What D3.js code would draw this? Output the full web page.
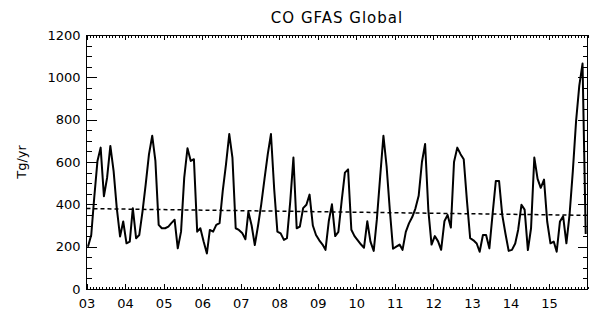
<!DOCTYPE html>
<html>
<head>
<meta charset="utf-8">
<script src="https://cdn.jsdelivr.net/npm/d3@7"></script>
<style>
  body { margin: 0; background: #fff; }
  svg text { font-family: "DejaVu Sans", sans-serif; fill: #000; }
</style>
</head>
<body>
<script>
// monthly CO emissions, Jan 2003 .. Dec 2015 (Tg/yr)
const startYear = 2003;
const values2003 = [200, 255, 430, 605, 668, 438, 525, 676, 557, 382, 248, 319];
const values2004 = [216, 224, 382, 240, 255, 367, 494, 636, 724, 605, 303, 287];
const values2005 = [287, 295, 311, 327, 192, 271, 525, 665, 605, 613, 271, 287];
const values2006 = [224, 168, 279, 271, 303, 311, 462, 589, 732, 621, 287, 279];
const values2007 = [265, 235, 365, 300, 208, 300, 400, 520, 637, 732, 470, 271];
const values2008 = [263, 232, 240, 414, 621, 287, 295, 382, 398, 446, 300, 255];
const values2009 = [230, 210, 185, 320, 400, 250, 270, 415, 550, 565, 280, 250];
const values2010 = [230, 210, 195, 320, 224, 180, 330, 530, 724, 580, 370, 190];
const values2011 = [200, 210, 185, 270, 310, 340, 380, 440, 600, 685, 370, 210];
const values2012 = [250, 225, 185, 320, 350, 290, 600, 668, 637, 613, 414, 240];
const values2013 = [230, 215, 176, 255, 255, 192, 351, 510, 510, 350, 260, 180];
const values2014 = [185, 215, 280, 398, 375, 184, 287, 621, 520, 478, 517, 319];
const values2015 = [216, 224, 176, 319, 343, 216, 351, 557, 795, 960, 1065, 260];
const values = [].concat(values2003, values2004, values2005, values2006, values2007,
  values2008, values2009, values2010, values2011, values2012, values2013,
  values2014, values2015);

// linear trend, start and end of the period
const trendValues = [380, 348];
const trendDates = [new Date(2003, 0, 1), new Date(2016, 0, 1)];

const yearLabels = ["03", "04", "05", "06", "07", "08", "09", "10", "11", "12", "13", "14", "15"];
const yTicks = [0, 200, 400, 600, 800, 1000, 1200];

const width = 592;
const height = 320;
const marginLeft = 86.5;
const marginRight = 4.5;
const marginTop = 35;
const marginBottom = 31;

const data = values.map(function (v, i) {
  return { date: new Date(startYear, i, 15), value: v };
});

const svg = d3.select("body")
  .append("svg")
  .attr("width", width)
  .attr("height", height);

svg.append("rect")
  .attr("width", "100%")
  .attr("height", "100%")
  .attr("fill", "white");

const x = d3.scaleTime()
  .domain([new Date(startYear, 0, 1), new Date(startYear + yearLabels.length, 0, 1)])
  .range([marginLeft, width - marginRight]);

const y = d3.scaleLinear()
  .domain([0, 1200])
  .range([height - marginBottom, marginTop]);

const years = yearLabels.map(function (d, i) { return new Date(startYear + i, 0, 1); });
const months = x.ticks(d3.timeMonth.every(1));
const yMinor = d3.range(0, 1201, 50);

function styleAxis(g) {
  g.select(".domain").remove();
  g.selectAll("line").attr("stroke", "#000").attr("shape-rendering", "crispEdges");
  g.selectAll("text").attr("font-size", 13).attr("fill", "#000");
}

// bottom axis, years with labels, months as minor ticks
svg.append("g")
  .attr("transform", "translate(0," + y(0) + ")")
  .call(d3.axisBottom(x).tickValues(months).tickSize(-2.5).tickFormat(""))
  .call(styleAxis);
svg.append("g")
  .attr("transform", "translate(0," + y(0) + ")")
  .call(d3.axisBottom(x).tickValues(years).tickSize(-5).tickPadding(10)
    .tickFormat(function (d, i) { return yearLabels[i]; }))
  .call(styleAxis);

// top axis, no labels
svg.append("g")
  .attr("transform", "translate(0," + y(1200) + ")")
  .call(d3.axisTop(x).tickValues(months).tickSize(-2.5).tickFormat(""))
  .call(styleAxis);
svg.append("g")
  .attr("transform", "translate(0," + y(1200) + ")")
  .call(d3.axisTop(x).tickValues(years).tickSize(-5).tickFormat(""))
  .call(styleAxis);

// left axis
svg.append("g")
  .attr("transform", "translate(" + marginLeft + ",0)")
  .call(d3.axisLeft(y).tickValues(yMinor).tickSize(-5).tickFormat(""))
  .call(styleAxis);
svg.append("g")
  .attr("transform", "translate(" + marginLeft + ",0)")
  .call(d3.axisLeft(y).tickValues(yTicks).tickSize(-10).tickPadding(6).tickFormat(d3.format("d")))
  .call(styleAxis);

// right axis, no labels
svg.append("g")
  .attr("transform", "translate(" + (width - marginRight) + ",0)")
  .call(d3.axisRight(y).tickValues(yMinor).tickSize(-5).tickFormat(""))
  .call(styleAxis);
svg.append("g")
  .attr("transform", "translate(" + (width - marginRight) + ",0)")
  .call(d3.axisRight(y).tickValues(yTicks).tickSize(-10).tickFormat(""))
  .call(styleAxis);

// frame
svg.append("rect")
  .attr("x", marginLeft)
  .attr("y", y(1200))
  .attr("width", width - marginRight - marginLeft)
  .attr("height", y(0) - y(1200))
  .attr("fill", "none")
  .attr("stroke", "#000")
  .attr("shape-rendering", "crispEdges");

// trend
svg.append("path")
  .datum(trendValues)
  .attr("fill", "none")
  .attr("stroke", "#000")
  .attr("stroke-width", 1.5)
  .attr("stroke-dasharray", "4,3")
  .attr("d", d3.line()
    .x(function (d, i) { return x(trendDates[i]); })
    .y(function (d) { return y(d); }));

// monthly series
svg.append("path")
  .datum(data)
  .attr("fill", "none")
  .attr("stroke", "#000")
  .attr("stroke-width", 2)
  .attr("stroke-linejoin", "round")
  .attr("d", d3.line()
    .x(function (d) { return x(d.date); })
    .y(function (d) { return y(d.value); }));

// title and y label
svg.append("text")
  .attr("x", (marginLeft + width - marginRight) / 2)
  .attr("y", 23)
  .attr("text-anchor", "middle")
  .attr("font-size", 15)
  .attr("letter-spacing", 1)
  .text("CO  GFAS Global");

svg.append("text")
  .attr("transform", "rotate(-90)")
  .attr("x", -(y(0) + y(1200)) / 2)
  .attr("y", 26)
  .attr("text-anchor", "middle")
  .attr("font-size", 13)
  .text("Tg/yr");
</script>
</body>
</html>
